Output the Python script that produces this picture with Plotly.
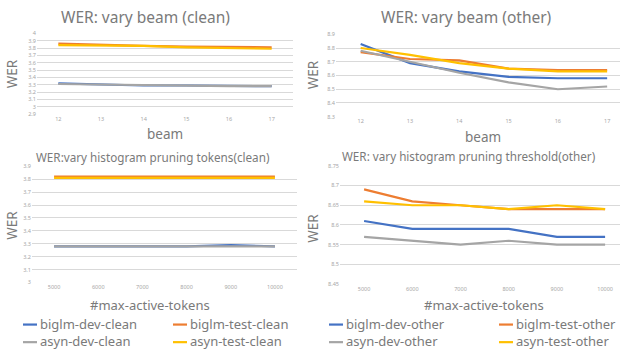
import plotly.graph_objects as go

beams = ["12", "13", "14", "15", "16", "17"]
tokens = ["5000", "6000", "7000", "8000", "9000", "10000"]

# vary beam (clean)
beam_clean_biglm_dev = [3.32, 3.30, 3.29, 3.29, 3.28, 3.28]
beam_clean_biglm_test = [3.86, 3.85, 3.83, 3.82, 3.82, 3.81]
beam_clean_asyn_dev = [3.31, 3.30, 3.29, 3.28, 3.28, 3.28]
beam_clean_asyn_test = [3.84, 3.84, 3.83, 3.81, 3.80, 3.79]

# vary beam (other)
beam_other_biglm_dev = [8.83, 8.69, 8.63, 8.59, 8.58, 8.58]
beam_other_biglm_test = [8.77, 8.72, 8.71, 8.65, 8.64, 8.64]
beam_other_asyn_dev = [8.78, 8.70, 8.62, 8.55, 8.50, 8.52]
beam_other_asyn_test = [8.80, 8.75, 8.69, 8.65, 8.63, 8.63]

# vary histogram pruning tokens (clean)
tok_clean_biglm_dev = [3.28, 3.28, 3.28, 3.28, 3.29, 3.28]
tok_clean_biglm_test = [3.82, 3.82, 3.82, 3.82, 3.82, 3.82]
tok_clean_asyn_dev = [3.28, 3.28, 3.28, 3.28, 3.28, 3.28]
tok_clean_asyn_test = [3.81, 3.81, 3.81, 3.81, 3.81, 3.81]

# vary histogram pruning threshold (other)
tok_other_biglm_dev = [8.61, 8.59, 8.59, 8.59, 8.57, 8.57]
tok_other_biglm_test = [8.69, 8.66, 8.65, 8.64, 8.64, 8.64]
tok_other_asyn_dev = [8.57, 8.56, 8.55, 8.56, 8.55, 8.55]
tok_other_asyn_test = [8.66, 8.65, 8.65, 8.64, 8.65, 8.64]

left_names = ["biglm-dev-clean", "biglm-test-clean", "asyn-dev-clean", "asyn-test-clean"]
right_names = ["biglm-dev-other", "biglm-test-other", "asyn-dev-other", "asyn-test-other"]
colors = ["#4472C4", "#ED7D31", "#A5A5A5", "#FFC000"]

W, H = 624, 353
FONT = "Noto Sans"
TXT = "#7A7A7A"
TICK = "#A6A6A6"
GRID = "#D9D9D9"

fig = go.Figure()

panels = [
    ("x", "y", beams, [beam_clean_biglm_dev, beam_clean_biglm_test, beam_clean_asyn_dev, beam_clean_asyn_test], left_names),
    ("x2", "y2", beams, [beam_other_biglm_dev, beam_other_biglm_test, beam_other_asyn_dev, beam_other_asyn_test], right_names),
    ("x3", "y3", tokens, [tok_clean_biglm_dev, tok_clean_biglm_test, tok_clean_asyn_dev, tok_clean_asyn_test], left_names),
    ("x4", "y4", tokens, [tok_other_biglm_dev, tok_other_biglm_test, tok_other_asyn_dev, tok_other_asyn_test], right_names),
]
for xa, ya, cats, series, names in panels:
    for vals, name, col in zip(series, names, colors):
        fig.add_trace(go.Scatter(x=cats, y=vals, xaxis=xa, yaxis=ya, mode="lines",
                                 name=name, line=dict(color=col, width=2.2),
                                 showlegend=False, hoverinfo="x+y+name"))

def px(x):
    return x / W

def py(y):
    return 1 - y / H

def xax(d0, d1, rmax, anchor):
    return dict(domain=[px(d0), px(d1)], type="category", range=[-0.5, rmax], anchor=anchor,
                showgrid=False, zeroline=False, showline=False, ticks="",
                tickfont=dict(family=FONT, size=5.5, color=TICK), fixedrange=True)

def yax(top, bot, lo, hi, dt, anchor):
    return dict(domain=[py(bot), py(top)], range=[lo, hi], dtick=dt, tick0=lo, anchor=anchor,
                showgrid=True, gridcolor=GRID, gridwidth=1, zeroline=False, showline=False,
                ticks="", tickfont=dict(family=FONT, size=5.5, color=TICK), fixedrange=True)

fig.update_layout(
    width=W, height=H, margin=dict(l=0, r=0, t=0, b=0),
    paper_bgcolor="white", plot_bgcolor="white", showlegend=False,
    xaxis=xax(37, 293, 5.5, "y"),
    yaxis=yax(30, 112.7, 2.9, 4.0, 0.1, "x"),
    xaxis2=xax(336, 620, -0.5 + (620 - 336) / 49.3, "y2"),
    yaxis2=yax(31, 115.3, 8.3, 8.9, 0.1, "x2"),
    xaxis3=xax(32, 297, 5.5, "y3"),
    yaxis3=yax(166, 285, 3.0, 3.9, 0.1, "x3"),
    xaxis4=xax(340, 620, -0.5 + (620 - 340) / 48.2, "y4"),
    yaxis4=yax(165.5, 286.7, 8.45, 8.75, 0.05, "x4"),
)

ann = []
def text(x, y, s, size, angle=0, xanchor="center"):
    ann.append(dict(x=px(x), y=py(y), xref="paper", yref="paper", text=s, showarrow=False,
                    xanchor=xanchor, yanchor="middle", textangle=angle,
                    font=dict(family=FONT, size=size, color=TXT)))

text(145.5, 13, "WER: vary beam (clean)", 15.5)
text(466.5, 13, "WER: vary beam (other)", 15.5)
text(153, 157, "WER:vary histogram pruning tokens(clean)", 11.7)
text(468.5, 156, "WER: vary histogram pruning threshold(other)", 11.7)
text(165, 133, "beam", 13.5)
text(483, 136, "beam", 13.5)
text(150, 308, "#max-active-tokens", 13)
text(484, 308, "#max-active-tokens", 13)
text(12, 72, "WER", 13.5, angle=-90)
text(313, 73, "WER", 13.5, angle=-90)
text(12, 227, "WER", 13.5, angle=-90)
text(313, 230, "WER", 13.5, angle=-90)

# legends
shapes = []
def legend_item(x0, y, name, col):
    shapes.append(dict(type="line", xref="paper", yref="paper", x0=px(x0), x1=px(x0 + 14),
                       y0=py(y), y1=py(y), line=dict(color=col, width=2.2)))
    text(x0 + 14.5, y - 1, name, 13, xanchor="left")

legend_item(23, 328, left_names[0], colors[0])
legend_item(173, 328, left_names[1], colors[1])
legend_item(23, 346, left_names[2], colors[2])
legend_item(173, 346, left_names[3], colors[3])
legend_item(329, 328, right_names[0], colors[0])
legend_item(499, 328, right_names[1], colors[1])
legend_item(329, 346, right_names[2], colors[2])
legend_item(499, 346, right_names[3], colors[3])

fig.update_layout(annotations=ann, shapes=shapes)
fig.write_html("out.html", config={"displayModeBar": False},
               post_script="document.body.style.margin='0px';document.body.style.overflow='hidden';")
